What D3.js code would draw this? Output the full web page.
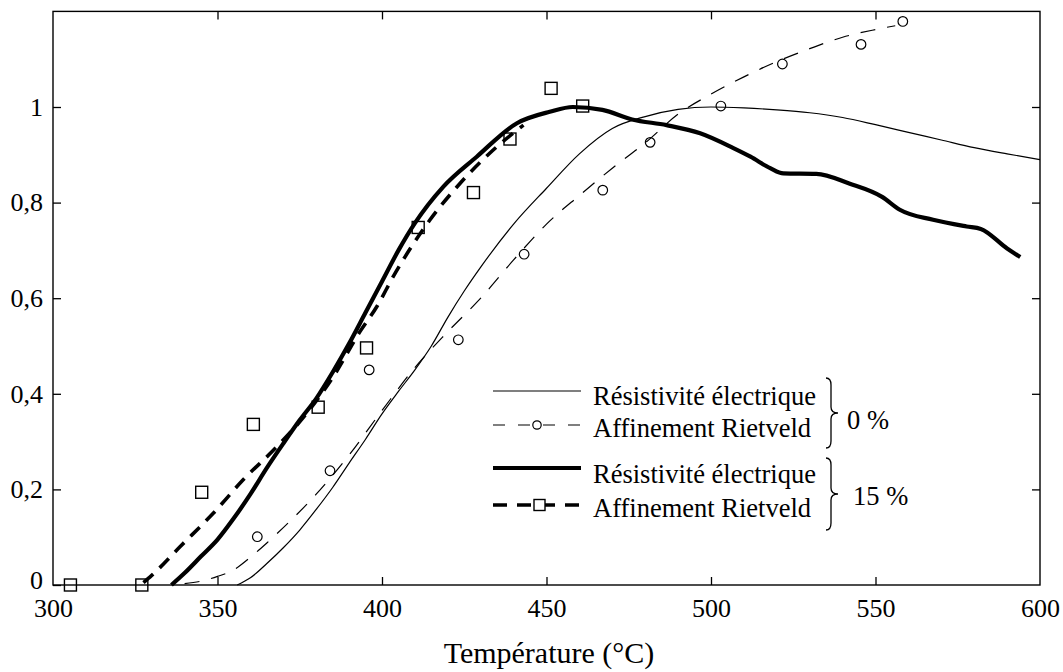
<!DOCTYPE html>
<html>
<head>
<meta charset="utf-8">
<script src="https://cdn.jsdelivr.net/npm/d3@7"></script>
<style>
  html, body { margin: 0; padding: 0; background: #fff; }
  svg { display: block; }
  text { font-family: "Liberation Serif", "DejaVu Serif", serif; fill: #000; }
</style>
</head>
<body>
<svg id="chart" width="1063" height="672"></svg>
<script>
// ---------- DATA ----------
const xTicks = [300, 350, 400, 450, 500, 550, 600];
const yTicks = [0, 0.2, 0.4, 0.6, 0.8, 1];

// 0 % : electrical resistivity (thin solid)
const res0T = [356, 360, 365, 370, 375, 380, 385, 390, 395, 400, 405, 410, 415, 420, 425, 430, 440, 450, 460, 470, 480, 490, 500, 510, 520, 530, 540, 550, 560, 570, 580, 590, 600];
const res0V = [0, 0.015, 0.045, 0.078, 0.115, 0.158, 0.204, 0.255, 0.305, 0.358, 0.405, 0.45, 0.5, 0.56, 0.615, 0.665, 0.755, 0.83, 0.902, 0.955, 0.98, 0.995, 1.0, 0.998, 0.994, 0.988, 0.978, 0.963, 0.947, 0.931, 0.915, 0.902, 0.89];

// 0 % : Rietveld fit (thin dashed)
const riet0T = [340, 345, 350, 355, 360, 365, 370, 380, 390, 400, 410, 420, 430, 440, 450, 460, 470, 480, 490, 500, 510, 520, 530, 540, 550, 556];
const riet0V = [0.003, 0.008, 0.018, 0.032, 0.058, 0.088, 0.12, 0.19, 0.272, 0.365, 0.455, 0.53, 0.6, 0.68, 0.755, 0.815, 0.872, 0.925, 0.985, 1.027, 1.063, 1.095, 1.122, 1.146, 1.162, 1.17];

// 0 % : Rietveld points (circles)
const pts0T = [362.1, 384.2, 396.1, 423.2, 443.2, 467.1, 481.5, 503, 521.7, 545.6, 558.3];
const pts0V = [0.101, 0.239, 0.45, 0.513, 0.692, 0.826, 0.926, 1.002, 1.09, 1.131, 1.179];

// 15 % : resistivity (thick solid)
const res15T = [336, 340, 345, 350, 355, 360, 365, 370, 375, 380, 385, 390, 395, 400, 405, 410, 418.6, 428.8, 441, 451, 458, 467, 476, 486.5, 496.7, 506.8, 512, 518, 522, 532, 542, 552, 557.4, 567.5, 577.7, 582, 590, 594];
const res15V = [0, 0.025, 0.06, 0.095, 0.14, 0.19, 0.245, 0.296, 0.345, 0.39, 0.445, 0.505, 0.57, 0.635, 0.7, 0.757, 0.833, 0.896, 0.966, 0.99, 1.0, 0.994, 0.974, 0.962, 0.945, 0.914, 0.896, 0.872, 0.861, 0.86, 0.84, 0.812, 0.785, 0.764, 0.75, 0.745, 0.704, 0.686];

// 15 % : Rietveld fit (thick dashed)
const riet15T = [327.5, 330, 338.6, 348.7, 357.8, 368, 377.1, 385.2, 393.3, 398.4, 403.4, 414.6, 423.7, 433.8, 443];
const riet15V = [0.005, 0.02, 0.08, 0.15, 0.22, 0.289, 0.359, 0.436, 0.53, 0.582, 0.645, 0.764, 0.84, 0.91, 0.962];

// 15 % : Rietveld points (squares)
const pts15T = [305.3, 327, 345.2, 360.9, 380.6, 395.3, 411, 427.8, 438.9, 451.4, 461];
const pts15V = [0, 0, 0.194, 0.336, 0.372, 0.496, 0.748, 0.821, 0.933, 1.039, 1.002];

const legendLabels = ["Résistivité électrique", "Affinement Rietveld", "Résistivité électrique", "Affinement Rietveld"];
const groupLabels = ["0 %", "15 %"];
const xTitle = "Température (°C)";

// ---------- CHART ----------
const svg = d3.select("#chart");
const x = d3.scaleLinear().domain([300, 600]).range([53, 1040]);
const y = d3.scaleLinear().domain([0, 1.2]).range([585, 11.4]);

const zip = (T, V) => T.map((t, i) => [t, V[i]]);
const line = d3.line().x(d => x(d[0])).y(d => y(d[1])).curve(d3.curveMonotoneX);

// frame
svg.append("rect")
  .attr("x", x(300)).attr("y", y(1.2))
  .attr("width", x(600) - x(300)).attr("height", y(0) - y(1.2))
  .attr("fill", "none").attr("stroke", "#000").attr("stroke-width", 1.4);

const fmt = d => d === 0 ? "0" : d === 1 ? "1" : String(d).replace(".", ",");

const gB = svg.append("g").attr("transform", `translate(0,${y(0)})`)
  .call(d3.axisBottom(x).tickValues(xTicks).tickSizeInner(-8).tickSizeOuter(0).tickPadding(14));
const gL = svg.append("g").attr("transform", `translate(${x(300)},0)`)
  .call(d3.axisLeft(y).tickValues(yTicks).tickFormat(fmt).tickSizeInner(-8).tickSizeOuter(0).tickPadding(10));
const gT = svg.append("g").attr("transform", `translate(0,${y(1.2)})`)
  .call(d3.axisTop(x).tickValues(xTicks.slice(1, -1)).tickSizeInner(-8).tickSizeOuter(0).tickFormat(""));
const gR = svg.append("g").attr("transform", `translate(${x(600)},0)`)
  .call(d3.axisRight(y).tickValues(yTicks.slice(1)).tickSizeInner(-8).tickSizeOuter(0).tickFormat(""));

[gB, gL, gT, gR].forEach(g => {
  g.select(".domain").remove();
  g.selectAll(".tick line").attr("stroke", "#000").attr("stroke-width", 1.3);
  g.selectAll(".tick text")
    .style("font-family", '"Liberation Serif", serif')
    .style("font-size", "26px").attr("fill", "#000");
});
gB.selectAll(".tick").filter(d => d === 300 || d === 600).select("line").remove();
// lift the "0" label slightly so it does not collide with "300"
gL.selectAll(".tick").filter(d => d === 0).select("text").attr("y", -5);

// axis title
svg.append("text").attr("x", 549).attr("y", 663).attr("text-anchor", "middle")
  .style("font-size", "30px").text(xTitle);

// curves
const plot = svg.append("g");
plot.append("path").datum(zip(res0T, res0V)).attr("d", line)
  .attr("fill", "none").attr("stroke", "#000").attr("stroke-width", 1.2);
plot.append("path").datum(zip(riet0T, riet0V)).attr("d", line)
  .attr("fill", "none").attr("stroke", "#000").attr("stroke-width", 1.2).attr("stroke-dasharray", "15,12");
plot.append("path").datum(zip(res15T, res15V)).attr("d", line)
  .attr("fill", "none").attr("stroke", "#000").attr("stroke-width", 4.2).attr("stroke-linejoin", "round");
plot.append("path").datum(zip(riet15T, riet15V)).attr("d", line)
  .attr("fill", "none").attr("stroke", "#000").attr("stroke-width", 3.6).attr("stroke-dasharray", "13,9");

// markers
plot.selectAll("circle.p0").data(zip(pts0T, pts0V)).join("circle").attr("class", "p0")
  .attr("cx", d => x(d[0])).attr("cy", d => y(d[1])).attr("r", 4.8)
  .attr("fill", "none").attr("stroke", "#000").attr("stroke-width", 1.2);
plot.selectAll("rect.p15").data(zip(pts15T, pts15V)).join("rect").attr("class", "p15")
  .attr("x", d => x(d[0]) - 6).attr("y", d => y(d[1]) - 6).attr("width", 12).attr("height", 12)
  .attr("fill", "none").attr("stroke", "#000").attr("stroke-width", 1.4);

// legend
const leg = svg.append("g");
const legY = [391, 425, 468, 505];
const legTextY = [405, 437, 483, 517];
const styles = [
  { w: 1.2, dash: null },
  { w: 1.2, dash: "12,13" },
  { w: 4.2, dash: null },
  { w: 3.6, dash: "14,10" }
];
styles.forEach((s, i) => {
  const l = leg.append("line").attr("x1", 493).attr("x2", 581).attr("y1", legY[i]).attr("y2", legY[i])
    .attr("stroke", "#000").attr("stroke-width", s.w);
  if (s.dash) l.attr("stroke-dasharray", s.dash);
  leg.append("text").attr("x", 593).attr("y", legTextY[i]).style("font-size", "26.5px").text(legendLabels[i]);
});
leg.append("circle").attr("cx", 537).attr("cy", legY[1]).attr("r", 4.2)
  .attr("fill", "#fff").attr("stroke", "#000").attr("stroke-width", 1.2);
leg.append("rect").attr("x", 534).attr("y", legY[3] - 5.5).attr("width", 11).attr("height", 11)
  .attr("fill", "#fff").attr("stroke", "#000").attr("stroke-width", 1.4);

// braces
function brace(x0, y0, y1, tip) {
  const m = (y0 + y1) / 2, w = 5, t = tip;
  return `M${x0},${y0} Q${x0 + w},${y0} ${x0 + w},${y0 + 7}` +
    ` L${x0 + w},${m - 6} Q${x0 + w},${m} ${x0 + t},${m}` +
    ` Q${x0 + w},${m} ${x0 + w},${m + 6}` +
    ` L${x0 + w},${y1 - 7} Q${x0 + w},${y1} ${x0},${y1}`;
}
leg.append("path").attr("d", brace(826, 378, 448, 12)).attr("fill", "none").attr("stroke", "#000").attr("stroke-width", 1.3);
leg.append("path").attr("d", brace(826, 458, 530, 12)).attr("fill", "none").attr("stroke", "#000").attr("stroke-width", 1.3);
leg.append("text").attr("x", 847).attr("y", 429).style("font-size", "26.5px").text(groupLabels[0]);
leg.append("text").attr("x", 853).attr("y", 505).style("font-size", "26.5px").text(groupLabels[1]);
</script>
</body>
</html>
